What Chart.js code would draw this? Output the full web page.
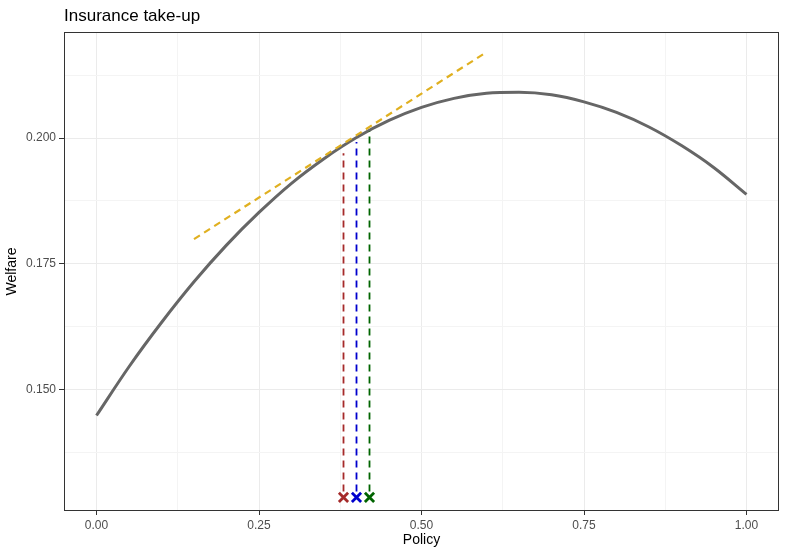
<!DOCTYPE html>
<html>
<head>
<meta charset="utf-8">
<script src="https://cdn.jsdelivr.net/npm/chart.js@4"></script>
<style>
  html, body { margin: 0; padding: 0; background: #fff; }
  #wrap { width: 786px; height: 557px; }
</style>
</head>
<body>
<div id="wrap"><canvas id="myChart" width="786" height="557"></canvas></div>
<script>
// welfare curve
const policy = [0, 0.05, 0.1, 0.15, 0.2, 0.25, 0.3, 0.35, 0.4, 0.45, 0.5,
	0.55, 0.6, 0.65, 0.7, 0.75, 0.8, 0.85, 0.9, 0.95, 1];
const welfare = [0.1448, 0.1545, 0.1633, 0.1714, 0.1787, 0.1852, 0.1910, 0.1959, 0.2001, 0.2035, 0.2061,
	0.2079, 0.2089, 0.2091, 0.2086, 0.2072, 0.2051, 0.2022, 0.1985, 0.1941, 0.1888];

// tangent (dashed gold)
const tangentX = [0.15, 0.60];
const tangentY = [0.1799, 0.2171];

// the three take-up marks
const markX = [0.38, 0.40, 0.42];
const markTop = [0.1970, 0.1992, 0.2014];
const markBase = 0.1285;
const markColors = ['#a52a2a', '#0000cd', '#006400'];

// axis ticks
const xMajor = [0, 0.25, 0.5, 0.75, 1];
const xMinor = [0.125, 0.375, 0.625, 0.875];
const yMajor = [0.15, 0.175, 0.2];
const yMinor = [0.1375, 0.1625, 0.1875, 0.2125];

const FONT = "'Liberation Sans', Arial, sans-serif";

function isMajor(list, v) {
	return list.some(m => Math.abs(m - v) < 1e-9);
}

const datasets = [];
datasets.push({
	label: 'welfare',
	data: policy.map((p, i) => ({ x: p, y: welfare[i] })),
	borderColor: '#666666',
	borderWidth: 3,
	pointRadius: 0,
	cubicInterpolationMode: 'monotone',
	order: 5
});
datasets.push({
	label: 'tangent',
	data: tangentX.map((p, i) => ({ x: p, y: tangentY[i] })),
	borderColor: '#e0b020',
	borderWidth: 2.2,
	borderDash: [7, 5],
	pointRadius: 0,
	order: 4
});
markX.forEach((p, i) => {
	datasets.push({
		label: 'line' + i,
		data: [{ x: p, y: markBase + 0.0012 }, { x: p, y: markTop[i] }],
		borderColor: markColors[i],
		borderWidth: 1.8,
		borderDash: [7, 5],
		pointRadius: 0,
		order: 3
	});
});
datasets.push({
	label: 'marks',
	data: markX.map(p => ({ x: p, y: markBase })),
	showLine: false,
	pointStyle: 'crossRot',
	pointRadius: 6.5,
	pointBorderWidth: 2.8,
	pointBorderColor: markColors,
	pointBackgroundColor: markColors,
	order: 1
});

// title at panel left + full panel border
const panelPlugin = {
	id: 'panel',
	afterDraw(chart) {
		const { ctx, chartArea: a } = chart;
		ctx.save();
		ctx.strokeStyle = '#333333';
		ctx.lineWidth = 1;
		ctx.strokeRect(a.left + 0.5, a.top + 0.5, a.right - a.left - 1, a.bottom - a.top - 1);
		ctx.fillStyle = '#000';
		ctx.font = '17px ' + FONT;
		ctx.textBaseline = 'alphabetic';
		ctx.textAlign = 'left';
		ctx.fillText('Insurance take-up', a.left, 21);
		ctx.restore();
	}
};

function gridCol(major) {
	return ctx => (ctx.tick && isMajor(major, ctx.tick.value)) ? '#ebebeb' : '#f4f4f4';
}
function tickCol(major) {
	return ctx => (ctx.tick && isMajor(major, ctx.tick.value)) ? '#333333' : 'rgba(0,0,0,0)';
}

new Chart(document.getElementById('myChart'), {
	type: 'line',
	data: { datasets: datasets },
	plugins: [panelPlugin],
	options: {
		responsive: false,
		animation: false,
		layout: { autoPadding: false, padding: { left: 0, right: 7, top: 32, bottom: 0 } },
		plugins: {
			legend: { display: false },
			tooltip: { enabled: false },
			title: { display: false }
		},
		scales: {
			x: {
				type: 'linear',
				min: -0.05,
				max: 1.05,
				afterBuildTicks: s => { s.ticks = xMajor.concat(xMinor).sort((a, b) => a - b).map(v => ({ value: v })); },
				afterFit: s => { s.height = 46; s.paddingLeft = 0; s.paddingRight = 0; },
				border: { display: false },
				grid: { color: gridCol(xMajor), tickColor: tickCol(xMajor), tickLength: 4, lineWidth: 1 },
				ticks: {
					autoSkip: false,
					maxRotation: 0,
					padding: 3,
					color: '#4d4d4d',
					font: { family: FONT, size: 12 },
					callback: v => isMajor(xMajor, v) ? v.toFixed(2) : ''
				},
				title: {
					display: true,
					text: 'Policy',
					color: '#000',
					font: { family: FONT, size: 14 },
					padding: { top: 0, bottom: 8 }
				}
			},
			y: {
				type: 'linear',
				min: 0.1258,
				max: 0.2211,
				afterBuildTicks: s => { s.ticks = yMajor.concat(yMinor).sort((a, b) => a - b).map(v => ({ value: v })); },
				afterFit: s => { s.width = 64; s.paddingTop = 0; s.paddingBottom = 0; },
				border: { display: false },
				grid: { color: gridCol(yMajor), tickColor: tickCol(yMajor), tickLength: 5, lineWidth: 1 },
				ticks: {
					autoSkip: false,
					padding: 3,
					color: '#4d4d4d',
					font: { family: FONT, size: 12 },
					callback: v => isMajor(yMajor, v) ? v.toFixed(3) : ''
				},
				title: {
					display: true,
					text: 'Welfare',
					color: '#000',
					font: { family: FONT, size: 14 },
					padding: { top: 4, bottom: 0 }
				}
			}
		}
	}
});
</script>
</body>
</html>
